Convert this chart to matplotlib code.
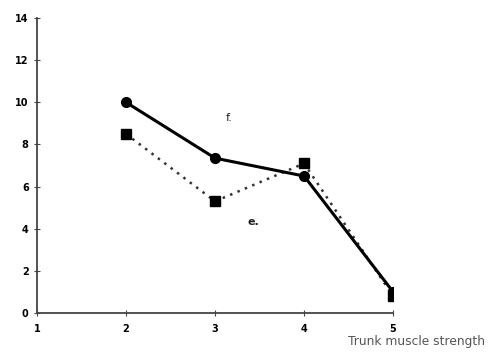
import matplotlib
matplotlib.use('Agg')
import matplotlib.pyplot as plt

strength = [2, 3, 4, 5]
f_values = [10.0, 7.35, 6.5, 1.0]
e_values = [8.5, 5.3, 7.1, 0.8]
x_ticks = [1, 2, 3, 4, 5]
y_ticks = [0, 2, 4, 6, 8, 10, 12, 14]

fig = plt.figure(figsize=(5.04, 3.61), dpi=100)
ax = fig.add_axes([0.0734, 0.133, 0.7066, 0.817])

ax.plot(strength, f_values, color='black', lw=2.2, marker='o', ms=7, zorder=3)
ax.plot(strength, e_values, color='#333333', lw=1.8, ls=(0, (1, 2.2)),
        marker='s', ms=7, mfc='black', mec='black', zorder=2)

ax.text(3.12, 9.1, 'f.', fontsize=8, color='#222222')
ax.text(3.36, 4.2, 'e.', fontsize=8, fontweight='bold', color='#222222')

ax.set_xlim(1, 5)
ax.set_ylim(0, 14)
ax.set_xticks(x_ticks)
ax.set_yticks(y_ticks)
ax.tick_params(direction='inout', length=4, width=0.8, labelsize=7, color='#444444')
ax.tick_params(axis='x', pad=6)
ax.tick_params(axis='y', pad=4)
for lab in ax.get_xticklabels() + ax.get_yticklabels():
    lab.set_fontweight('bold')

for side in ['top', 'right']:
    ax.spines[side].set_visible(False)
for side in ['left', 'bottom']:
    ax.spines[side].set_color('#444444')
    ax.spines[side].set_linewidth(1.3)

fig.text(0.69, 0.055, 'Trunk muscle strength', fontsize=8.8, color='#555555', va='center')

fig.savefig('out.png', dpi=100)
